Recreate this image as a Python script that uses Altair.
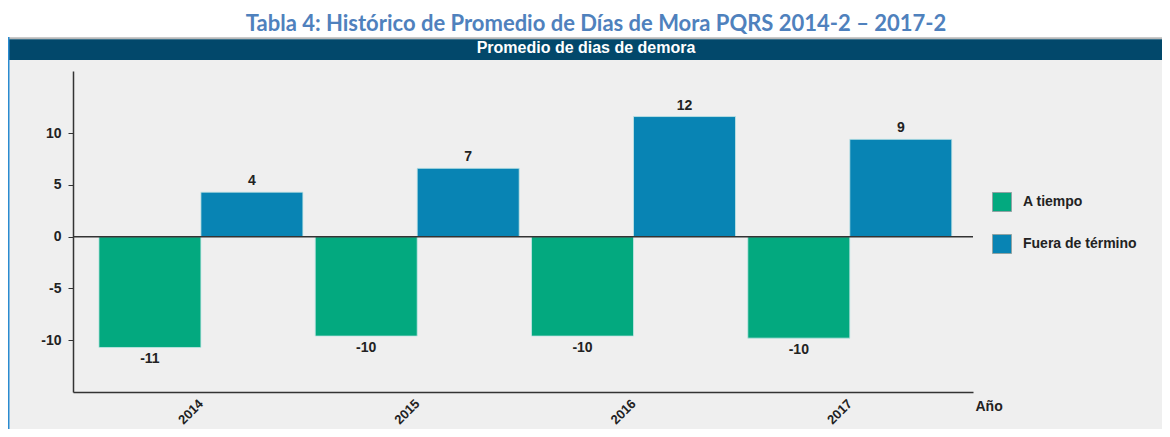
import altair as alt
import pandas as pd

# ---- data ----
years = ["2014", "2015", "2016", "2017"]
series = ["A tiempo", "Fuera de término"]
a_tiempo = [-10.7, -9.6, -9.6, -9.8]
fuera_de_termino = [4.3, 6.6, 11.6, 9.4]
y_ticks = [-10, -5, 0, 5, 10]
y_domain = [-15, 16]
colors = ["#03a97f", "#0884b4"]
title_text = "Tabla 4: Histórico de Promedio de Días de Mora PQRS 2014-2 – 2017-2"
header_text = "Promedio de dias de demora"
x_title = "Año"

rows = []
for i, yr in enumerate(years):
    rows.append({"year": yr, "serie": series[0], "value": a_tiempo[i]})
    rows.append({"year": yr, "serie": series[1], "value": fuera_de_termino[i]})
df = pd.DataFrame(rows)

# ---- layout (view coordinates) ----
W, H = 900, 321
PL, PT = 65, 63
VW, VH = 1154, 421
FONT = "Liberation Sans"
TXT = "#222222"


def vy(y):
    return y - PT


def vx(x):
    return x - PL


x_enc = alt.X(
    "year:N",
    sort=years,
    scale=alt.Scale(paddingInner=0.057, paddingOuter=0.109, align=0.55),
    axis=alt.Axis(
        title=x_title, labelAngle=-45, labelAlign="right", labelBaseline="top",
        labelPadding=5, labelOffset=-4, ticks=False, domainColor="#333333", domainWidth=1.5,
        labelFont=FONT, labelFontSize=13, labelFontWeight="bold", labelColor=TXT,
        titleX=902, titleY=14, titleAlign="left", titleBaseline="middle",
        titleFont=FONT, titleFontSize=14, titleFontWeight="bold", titleColor=TXT,
        zindex=1,
    ),
)
xoff = alt.XOffset("serie:N", sort=series, scale=alt.Scale(paddingInner=0, paddingOuter=0))
y_enc = alt.Y(
    "value:Q",
    scale=alt.Scale(domain=y_domain, nice=False, zero=False),
    axis=alt.Axis(
        title=None, values=y_ticks, labelExpr="'' + datum.value", grid=False,
        domainColor="#333333", domainWidth=1.5, tickColor="#333333", tickSize=5,
        tickWidth=1, labelPadding=7, labelFont=FONT, labelFontSize=14,
        labelFontWeight="bold", labelColor=TXT, zindex=1,
    ),
)
color_enc = alt.Color(
    "serie:N",
    sort=series,
    scale=alt.Scale(domain=series, range=colors),
    legend=alt.Legend(
        title=None, orient="none", legendX=919, legendY=121, symbolType="square",
        symbolSize=361, symbolStrokeColor="#8fa3a3", symbolStrokeWidth=1,
        labelFont=FONT, labelFontSize=14, labelFontWeight="bold", labelColor=TXT,
        rowPadding=18, labelOffset=11, zindex=1,
    ),
)

one = pd.DataFrame({"k": [0]})
base = alt.Chart(one)

panel = base.mark_rect(color="#efefef").encode(
    x=alt.value(vx(0)), x2=alt.value(vx(VW)), y=alt.value(vy(52)), y2=alt.value(vy(VH))
)
gray_line = base.mark_rect(color="#b8b8b8").encode(
    x=alt.value(vx(0)), x2=alt.value(vx(VW)), y=alt.value(vy(29.3)), y2=alt.value(vy(31.3))
)
header = base.mark_rect(color="#02486b").encode(
    x=alt.value(vx(0)), x2=alt.value(vx(VW)), y=alt.value(vy(31.3)), y2=alt.value(vy(52))
)
blue_line = base.mark_rect(color="#2a8bd0").encode(
    x=alt.value(vx(0)), x2=alt.value(vx(1.5)), y=alt.value(vy(29)), y2=alt.value(vy(VH))
)
header_txt = base.mark_text(
    text=header_text, font=FONT, fontSize=16, fontWeight="bold", color="white",
    align="center", baseline="alphabetic",
).encode(x=alt.value(vx(578)), y=alt.value(vy(45.3)))
title_txt = base.mark_text(
    text=title_text, font="Lato", fontSize=22, fontWeight="bold", color="#4f81bd",
    align="center", baseline="alphabetic",
).encode(x=alt.value(vx(588)), y=alt.value(vy(23)))

bars = alt.Chart(df).mark_bar(stroke="#c4e6e6", strokeWidth=0.8).encode(
    x=x_enc, xOffset=xoff, y=y_enc, color=color_enc
)
zero = alt.Chart(pd.DataFrame({"z": [0]})).mark_rule(color="#333333", strokeWidth=1.5).encode(
    y=alt.Y("z:Q")
)
labels = alt.Chart(df).transform_calculate(lab="'' + round(datum.value)")
pos_txt = labels.transform_filter("datum.value >= 0").mark_text(
    font=FONT, fontSize=14, fontWeight="bold", color=TXT, baseline="middle", dy=-11
).encode(x=alt.X("year:N", sort=years), xOffset=alt.XOffset("serie:N", sort=series),
         y="value:Q", text="lab:N")
neg_txt = labels.transform_filter("datum.value < 0").mark_text(
    font=FONT, fontSize=14, fontWeight="bold", color=TXT, baseline="middle", dy=12
).encode(x=alt.X("year:N", sort=years), xOffset=alt.XOffset("serie:N", sort=series),
         y="value:Q", text="lab:N")

chart = alt.layer(
    panel, gray_line, header, blue_line, header_txt, title_txt,
    bars, zero, pos_txt, neg_txt,
).properties(
    width=W, height=H,
    autosize=alt.AutoSizeParams(type="none"),
    padding={"left": PL, "top": PT, "right": VW - PL - W, "bottom": VH - PT - H},
    background="white",
).configure_view(stroke=None)

chart.save("out.html", embed_options={"renderer": "svg", "actions": False})
